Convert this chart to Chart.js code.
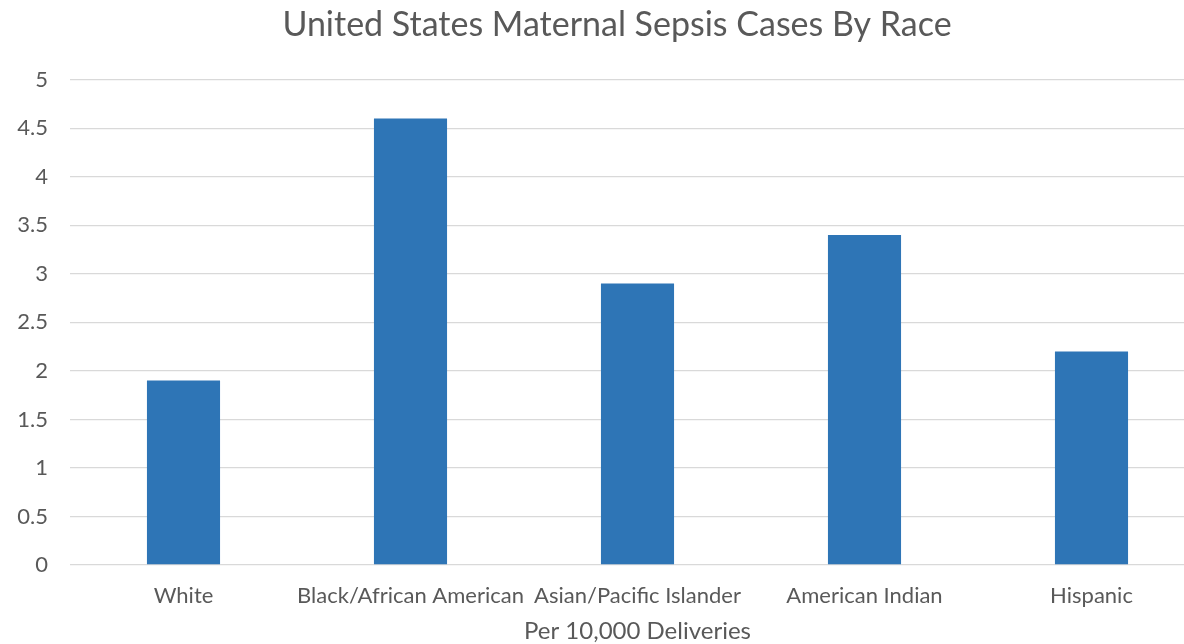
<!DOCTYPE html>
<html>
<head>
<meta charset="utf-8">
<script src="https://cdn.jsdelivr.net/npm/chart.js@4"></script>
<style>
  html, body { margin: 0; padding: 0; background: #ffffff; overflow: hidden; }
  #wrap { position: relative; width: 1234px; height: 644px; }
</style>
</head>
<body>
<div id="wrap"><canvas id="c"></canvas></div>
<script>
const chartTitle = "United States Maternal Sepsis Cases By Race";
const categories = ["White", "Black/African American", "Asian/Pacific Islander", "American Indian", "Hispanic"];
const casesPer10k = [1.9, 4.6, 2.9, 3.4, 2.2];
const xAxisTitle = "Per 10,000 Deliveries";
const yMin = 0, yMax = 5, yStep = 0.5;

const FONT = "Lato, 'Open Sans', sans-serif";
const TEXT = "#595959";

new Chart(document.getElementById("c"), {
  type: "bar",
  data: {
    labels: categories,
    datasets: [{
      label: "Cases",
      data: casesPer10k,
      yAxisID: "y",
      backgroundColor: "#2E75B6",
      borderWidth: 0,
      categoryPercentage: 1,
      barPercentage: 0.322
    }]
  },
  options: {
    responsive: true,
    maintainAspectRatio: false,
    animation: false,
    layout: { padding: 0 },
    plugins: {
      legend: { display: false },
      tooltip: { enabled: false },
      title: {
        display: true,
        text: chartTitle,
        color: TEXT,
        font: { family: FONT, size: 34, weight: "normal" },
        padding: { top: 5, bottom: 34 }
      }
    },
    scales: {
      x: {
        grid: { display: false, drawTicks: false },
        border: { display: false },
        ticks: {
          color: TEXT,
          font: { family: FONT, size: 22 },
          padding: 18,
          maxRotation: 0,
          autoSkip: false
        },
        title: {
          display: true,
          text: xAxisTitle,
          color: TEXT,
          font: { family: FONT, size: 24, lineHeight: 1 },
          padding: { top: 0, bottom: 0.5 }
        },
        afterFit(scale) { scale.height = 79; }
      },
      y: {
        position: "left",
        min: yMin,
        max: yMax,
        grid: { color: "#D9D9D9", lineWidth: 1.3, drawTicks: false },
        border: { display: false },
        ticks: {
          stepSize: yStep,
          color: TEXT,
          font: { family: FONT, size: 22 },
          padding: 22,
          callback: (v) => String(Number(v.toFixed(1)))
        },
        afterFit(scale) { scale.width = 70; }
      },
      yRight: {
        position: "right",
        min: yMin,
        max: yMax,
        grid: { display: false, drawTicks: false },
        border: { display: false },
        ticks: { display: false },
        afterFit(scale) { scale.width = 29; }
      }
    }
  }
});
</script>
</body>
</html>
